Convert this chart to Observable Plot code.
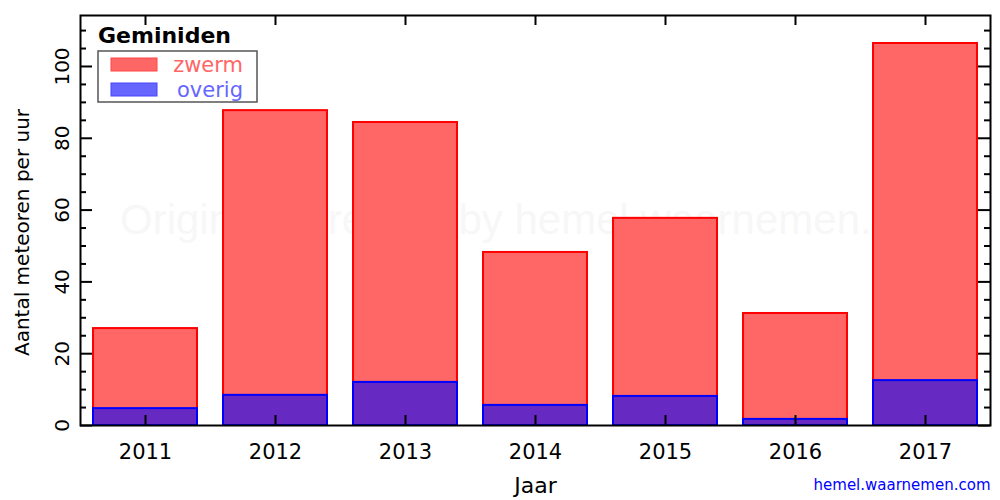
<!DOCTYPE html>
<html>
<head>
<meta charset="utf-8">
<script src="https://cdn.jsdelivr.net/npm/d3@7"></script>
<script src="https://cdn.jsdelivr.net/npm/@observablehq/plot@0.6"></script>
<style>
  html, body { margin: 0; padding: 0; background: #fff; }
  #chart { position: relative; width: 1000px; height: 500px; }
  svg { font-family: "DejaVu Sans", sans-serif; }
</style>
</head>
<body>
<div id="chart"></div>
<script>
const years = ["2011", "2012", "2013", "2014", "2015", "2016", "2017"];
const zwerm = [27.0, 87.7, 84.4, 48.2, 57.7, 31.2, 106.4];
const overig = [4.7, 8.4, 12.0, 5.6, 8.1, 1.7, 12.5];
const majorTicks = [0, 20, 40, 60, 80, 100];
const minorTicks = [5, 10, 15, 25, 30, 35, 45, 50, 55, 65, 70, 75, 85, 90, 95, 105, 110];

const data = years.map((y, i) => ({year: y, zwerm: zwerm[i], overig: overig[i]}));

const W = 1000, H = 500;
const mL = 80, mR = 10, mT = 15, mB = 75;
const fw = W - mL - mR, fh = H - mT - mB;

const plot = Plot.plot({
  width: W,
  height: H,
  marginLeft: mL, marginRight: mR, marginTop: mT, marginBottom: mB,
  style: {fontFamily: "DejaVu Sans, sans-serif", background: "white"},
  x: {type: "band", domain: years, paddingInner: 0.2, paddingOuter: 0.1, axis: null},
  y: {domain: [0, 114.2], axis: null},
  marks: [
    // watermark
    Plot.text(["Originally created by hemel.waarnemen.com"], {
      frameAnchor: "middle", text: d => d, fontSize: 42, fill: "#f7f7f7",
      fontFamily: "Liberation Sans, sans-serif"
    }),
    Plot.barY(data, {x: "year", y: "zwerm", fill: "#ff6666", stroke: "red", strokeWidth: 2}),
    Plot.barY(data, {x: "year", y: "overig", fill: "blue", fillOpacity: 0.6, stroke: "blue", strokeWidth: 2}),
    // y ticks left & right (inward)
    Plot.ruleY(majorTicks, {y: d => d, insetRight: fw - 12, stroke: "black", strokeWidth: 2}),
    Plot.ruleY(minorTicks, {y: d => d, insetRight: fw - 6, stroke: "black", strokeWidth: 2}),
    Plot.ruleY(majorTicks, {y: d => d, insetLeft: fw - 12, stroke: "black", strokeWidth: 2}),
    Plot.ruleY(minorTicks, {y: d => d, insetLeft: fw - 6, stroke: "black", strokeWidth: 2}),
    // x ticks bottom & top (inward)
    Plot.ruleX(years, {x: d => d, insetTop: fh - 10, stroke: "black", strokeWidth: 2}),
    Plot.ruleX(years, {x: d => d, insetBottom: fh - 10, stroke: "black", strokeWidth: 2}),
    // y tick labels (rotated)
    Plot.text(majorTicks, {
      y: d => d, text: d => String(d), frameAnchor: "left", dx: -18, rotate: -90,
      fontSize: 20, fill: "black", textAnchor: "middle", lineAnchor: "middle"
    }),
    // x tick labels
    Plot.text(years, {
      x: d => d, text: d => d, frameAnchor: "bottom", dy: 27,
      fontSize: 21, fill: "black", lineAnchor: "middle"
    }),
    // axis labels
    Plot.text(["Aantal meteoren per uur"], {
      text: d => d, frameAnchor: "left", dx: -58, dy: 12, rotate: -90,
      fontSize: 20, fill: "black", textAnchor: "middle", lineAnchor: "middle"
    }),
    Plot.text(["Jaar"], {
      text: d => d, frameAnchor: "bottom", dy: 60,
      fontSize: 22, fill: "black", lineAnchor: "middle"
    }),
    Plot.text(["hemel.waarnemen.com"], {
      text: d => d, frameAnchor: "bottom-right", dy: 60,
      fontSize: 15, fill: "blue", textAnchor: "end", lineAnchor: "middle"
    }),
    Plot.frame({stroke: "black", strokeWidth: 2})
  ]
});

document.getElementById("chart").appendChild(plot);

// legend inside plot area
const svg = d3.select(plot);
const lg = svg.append("g").attr("class", "legend");
lg.append("text").attr("x", 98).attr("y", 43).attr("font-size", 22).attr("font-weight", "bold")
  .attr("text-anchor", "start").attr("fill", "black").text("Geminiden");
lg.append("rect").attr("x", 98).attr("y", 51).attr("width", 159).attr("height", 51)
  .attr("fill", "white").attr("stroke", "#555").attr("stroke-width", 1.5);
lg.append("rect").attr("x", 111).attr("y", 58).attr("width", 46).attr("height", 13)
  .attr("fill", "#ff6666").attr("stroke", "#ff4444").attr("stroke-width", 1);
lg.append("rect").attr("x", 111).attr("y", 83).attr("width", 46).attr("height", 13)
  .attr("fill", "#6666ff").attr("stroke", "#4444ff").attr("stroke-width", 1);
lg.append("text").attr("x", 243).attr("y", 72).attr("font-size", 21).attr("text-anchor", "end")
  .attr("fill", "#ff6666").text("zwerm");
lg.append("text").attr("x", 243).attr("y", 97).attr("font-size", 21).attr("text-anchor", "end")
  .attr("fill", "#6666ff").text("overig");
</script>
</body>
</html>
